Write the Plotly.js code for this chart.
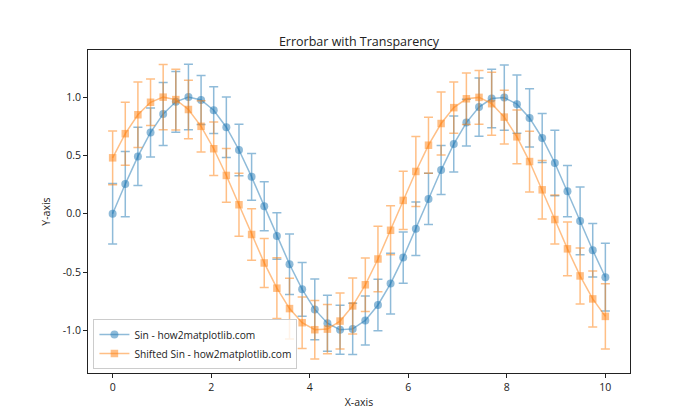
<!DOCTYPE html>
<html>
<head>
<meta charset="utf-8">
<script src="https://cdn.plot.ly/plotly-3.0.1.min.js"></script>
<style>
  html, body { margin: 0; padding: 0; background: #fff; }
  #myDiv { width: 700px; height: 420px; }
</style>
</head>
<body>
<div id="myDiv"></div>
<script>
// x positions (0..10, 40 points)
var xVals = [0, 0.2564, 0.5128, 0.7692, 1.0256, 1.2821, 1.5385, 1.7949, 2.0513, 2.3077,
   2.5641, 2.8205, 3.0769, 3.3333, 3.5897, 3.8462, 4.1026, 4.3590, 4.6154, 4.8718,
   5.1282, 5.3846, 5.6410, 5.8974, 6.1538, 6.4103, 6.6667, 6.9231, 7.1795, 7.4359,
   7.6923, 7.9487, 8.2051, 8.4615, 8.7179, 8.9744, 9.2308, 9.4872, 9.7436, 10];

var sinVals = [0, 0.254, 0.491, 0.696, 0.855, 0.959, 1.0, 0.975, 0.887, 0.741,
   0.546, 0.316, 0.065, -0.191, -0.433, -0.648, -0.820, -0.938, -0.995, -0.987,
   -0.915, -0.782, -0.599, -0.376, -0.129, 0.127, 0.374, 0.597, 0.781, 0.914,
   0.987, 0.995, 0.939, 0.821, 0.649, 0.435, 0.193, -0.062, -0.313, -0.544];

var sinErr = [0.26, 0.28, 0.25, 0.21, 0.27, 0.26, 0.28, 0.21, 0.20, 0.26,
   0.22, 0.20, 0.21, 0.20, 0.26, 0.23, 0.26, 0.24, 0.21, 0.22,
   0.21, 0.22, 0.26, 0.22, 0.23, 0.22, 0.21, 0.24, 0.20, 0.25,
   0.25, 0.28, 0.25, 0.25, 0.21, 0.28, 0.22, 0.29, 0.23, 0.29];

var shiftVals = [0.479, 0.686, 0.848, 0.955, 0.999, 0.978, 0.893, 0.749, 0.557, 0.328,
   0.077, -0.178, -0.422, -0.638, -0.813, -0.934, -0.994, -0.989, -0.920, -0.790,
   -0.609, -0.388, -0.142, 0.114, 0.362, 0.587, 0.773, 0.909, 0.985, 0.997,
   0.943, 0.828, 0.659, 0.447, 0.205, -0.050, -0.301, -0.533, -0.730, -0.880];

var shiftErr = [0.23, 0.27, 0.28, 0.20, 0.28, 0.26, 0.25, 0.22, 0.23, 0.23,
   0.27, 0.22, 0.21, 0.26, 0.26, 0.22, 0.25, 0.21, 0.24, 0.24,
   0.23, 0.28, 0.21, 0.25, 0.30, 0.24, 0.27, 0.22, 0.22, 0.23,
   0.27, 0.23, 0.23, 0.26, 0.25, 0.21, 0.23, 0.24, 0.24, 0.28];

var blue = 'rgba(31,119,180,0.5)';
var orange = 'rgba(255,127,14,0.5)';

var trace1 = {
   x: xVals,
   y: sinVals,
   type: 'scatter',
   mode: 'lines+markers',
   name: 'Sin - how2matplotlib.com',
   line: { color: blue, width: 1.5 },
   marker: { color: blue, size: 8, symbol: 'circle' },
   error_y: { type: 'data', array: sinErr, visible: true, color: blue, thickness: 1.5, width: 4.5 }
};

var trace2 = {
   x: xVals,
   y: shiftVals,
   type: 'scatter',
   mode: 'lines+markers',
   name: 'Shifted Sin - how2matplotlib.com',
   line: { color: orange, width: 1.5 },
   marker: { color: orange, size: 7.5, symbol: 'square' },
   error_y: { type: 'data', array: shiftErr, visible: true, color: orange, thickness: 1.5, width: 4.5 }
};

var data = [trace1, trace2];

var axisStyle = {
   showgrid: false,
   zeroline: false,
   showline: true,
   mirror: true,
   linecolor: '#222',
   linewidth: 1,
   ticks: 'outside',
   ticklen: 4,
   tickcolor: '#222',
   tickfont: { size: 10.5, color: '#222' }
};

var layout = {
   width: 700,
   height: 420,
   font: { family: 'Open Sans, Noto Sans, sans-serif', color: '#222' },
   paper_bgcolor: '#fff',
   plot_bgcolor: '#fff',
   margin: { l: 88, r: 70, t: 50, b: 47 },
   title: {
      text: 'Errorbar with Transparency', font: { size: 12.5 },
      x: 0.5, xref: 'paper', y: 1, yref: 'paper', yanchor: 'bottom', pad: { b: 4 }
   },
   xaxis: Object.assign({}, axisStyle, {
      range: [-0.5, 10.5],
      tickvals: [0, 2, 4, 6, 8, 10],
      title: { text: 'X-axis', font: { size: 10.5 }, standoff: 6 }
   }),
   yaxis: Object.assign({}, axisStyle, {
      range: [-1.365, 1.403],
      tickvals: [-1.0, -0.5, 0.0, 0.5, 1.0],
      ticktext: ['-1.0', '-0.5', '0.0', '0.5', '1.0'],
      title: { text: 'Y-axis', font: { size: 10.5 }, standoff: 10 }
   }),
   legend: {
      x: 0.01, y: 0.012, xanchor: 'left', yanchor: 'bottom',
      bgcolor: 'rgba(255,255,255,0.8)',
      bordercolor: '#ccc',
      borderwidth: 1,
      font: { size: 10.2 },
      tracegroupgap: 0,
      itemwidth: 30
   },
   showlegend: true
};

Plotly.newPlot('myDiv', data, layout, { displayModeBar: false, staticPlot: true });
</script>
</body>
</html>
